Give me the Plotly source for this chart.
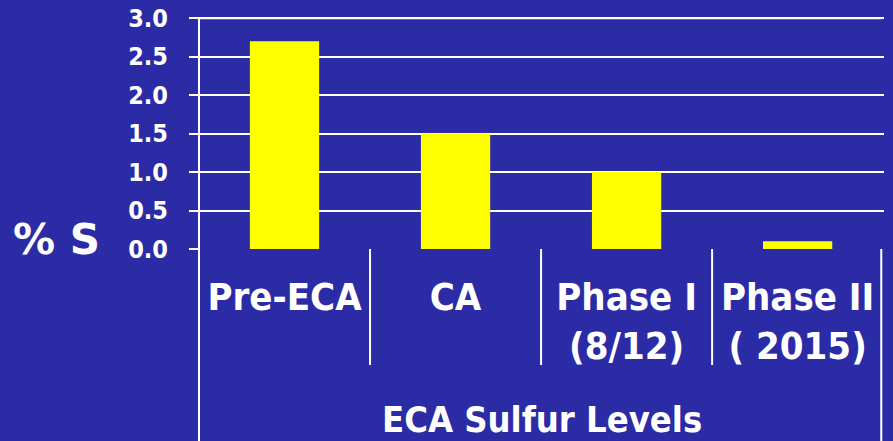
import plotly.graph_objects as go

categories = ["Pre-ECA", "CA", "Phase I<br>(8/12)", "Phase II<br>( 2015)"]
sulfur_pct = [2.7, 1.5, 1.0, 0.1]
y_ticks = [0.0, 0.5, 1.0, 1.5, 2.0, 2.5, 3.0]
y_tick_labels = ["0.0", "0.5", "1.0", "1.5", "2.0", "2.5", "3.0"]
x_title = "ECA Sulfur Levels"
y_title = "% S"

BG = "#2b2ba6"
BAR = "#ffff00"
FONT = "DejaVu Sans Condensed, DejaVu Sans, Verdana, sans-serif"
FONT_WIDE = "DejaVu Sans, Verdana, sans-serif"

fig = go.Figure()
fig.add_trace(go.Bar(
    x=list(range(len(categories))),
    y=sulfur_pct,
    marker=dict(color=BAR, line=dict(width=0)),
    width=0.405,
))

LINE = dict(color="white", width=2)
shapes = []
# value axis line, continuing down as the left frame of the category table
shapes.append(dict(type="line", xref="paper", yref="paper", x0=0, x1=0,
                   y0=-0.86, y1=1, line=LINE))
# right frame of the category table
shapes.append(dict(type="line", xref="paper", yref="paper", x0=0.996, x1=0.996,
                   y0=-0.86, y1=0, line=LINE))
# inner category dividers
for xv in [0.5, 1.5, 2.5]:
    shapes.append(dict(type="line", xref="x", yref="paper", x0=xv, x1=xv,
                       y0=-0.50, y1=0, line=LINE))
# top gridline at the axis maximum
shapes.append(dict(type="line", xref="paper", yref="y", x0=0, x1=0.996,
                   y0=max(y_ticks), y1=max(y_ticks), line=LINE))

fig.update_layout(
    width=893, height=441,
    margin=dict(l=199, r=9, t=17, b=192, pad=0, autoexpand=False),
    paper_bgcolor=BG, plot_bgcolor=BG,
    showlegend=False,
    font=dict(family=FONT, color="white"),
    shapes=shapes,
    xaxis=dict(
        range=[-0.5, 3.505],
        tickmode="array",
        tickvals=list(range(len(categories))),
        ticktext=["<b>%s</b>" % c for c in categories],
        tickfont=dict(size=38, color="white", family=FONT),
        showgrid=False, zeroline=False, showline=False,
        ticks="", ticklabelstandoff=22,
        automargin=False,
        fixedrange=True,
    ),
    yaxis=dict(
        range=[0, 3.015],
        tickmode="array",
        tickvals=y_ticks,
        ticktext=["<b>%s</b>" % t for t in y_tick_labels],
        tickfont=dict(size=25, color="white", family=FONT),
        showgrid=True, gridcolor="white", gridwidth=2,
        zeroline=False, showline=False,
        ticks="outside", ticklen=9, tickcolor="white", tickwidth=2,
        ticklabelstandoff=16,
        automargin=False,
        fixedrange=True,
    ),
)

fig.add_annotation(text="<b>%s</b>" % x_title, xref="paper", yref="paper",
                   x=0.5, y=-0.735, xanchor="center", yanchor="middle",
                   showarrow=False, font=dict(size=36, color="white", family=FONT))
fig.add_annotation(text="<b>%s</b>" % y_title, xref="paper", yref="paper",
                   x=-0.208, y=0.04, xanchor="center", yanchor="middle",
                   showarrow=False, font=dict(size=42, color="white", family=FONT_WIDE))

fig.write_html("out.html", config={"displayModeBar": False},
               post_script="document.body.style.margin='0';")
